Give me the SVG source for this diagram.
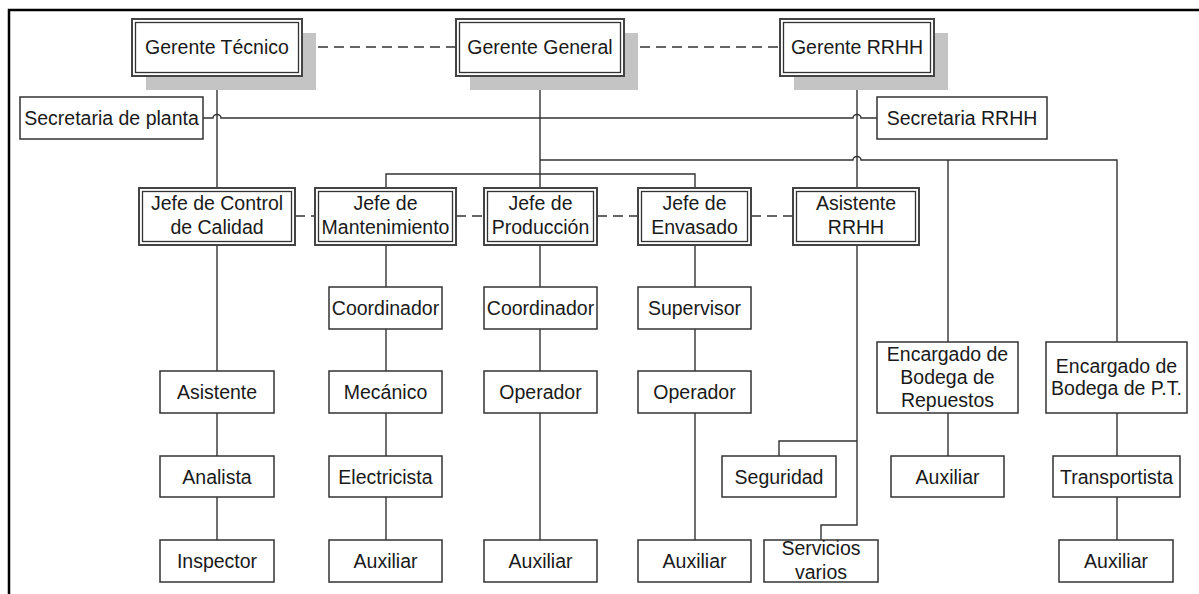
<svg xmlns="http://www.w3.org/2000/svg" width="1199" height="594" viewBox="0 0 1199 594">
<style>
text{font-family:"Liberation Sans",Arial,sans-serif;font-size:19.5px;fill:#1a1a1a;text-anchor:middle}
.box{fill:#fff;stroke:#333;stroke-width:1.5}
.dbo{fill:#fff;stroke:#444;stroke-width:2}
.dbi{fill:none;stroke:#333;stroke-width:1.3}
.sh{fill:#c4c4c4}
.ln{fill:none;stroke:#333;stroke-width:1.4}
.dash{fill:none;stroke:#333;stroke-width:1.4;stroke-dasharray:10 6}
.frame{fill:none;stroke:#000;stroke-width:2.5}
</style>
<rect width="1199" height="594" fill="#fff"/>
<path class="frame" d="M9,594 V10 H1199"/>
<g id="connectors">
<path class="dash" d="M302,47 H456 M624,47 H780"/>
<path class="dash" d="M295,216 H315 M456,216 H484 M597,216 H638 M751,216 H793"/>
<path class="ln" d="M217,76 V188 M217,245 V371 M217,413 V456 M217,497 V540"/>
<path class="ln" d="M540,76 V188 M540,245 V287 M540,329 V371 M540,413 V540"/>
<path class="ln" d="M386,188 V174 H695 V188"/>
<path class="ln" d="M386,245 V287 M386,329 V371 M386,413 V456 M386,497 V540"/>
<path class="ln" d="M695,245 V287 M695,329 V371 M695,413 V540"/>
<path class="ln" d="M857,76 V188 M857,245 V525 H821 V540 M857,441 H779 V456"/>
<path class="ln" d="M203,118 H213 a4,3.5 0 0 1 8,0 H853 a4,3.5 0 0 1 8,0 H877"/>
<path class="ln" d="M540,160 H853 a4,3.5 0 0 1 8,0 H948 V342 M948,160 H1117 V342"/>
<path class="ln" d="M948,413 V456 M1117,413 V456 M1117,497 V540"/>
</g>
<g id="gerente-tecnico"><rect class="sh" x="146" y="33" width="170" height="57"/><rect class="dbo" x="132" y="19" width="170" height="57"/><rect class="dbi" x="135.5" y="22.5" width="163" height="50"/><text x="217" y="54">Gerente Técnico</text></g>
<g id="gerente-general"><rect class="sh" x="470" y="33" width="168" height="57"/><rect class="dbo" x="456" y="19" width="168" height="57"/><rect class="dbi" x="459.5" y="22.5" width="161" height="50"/><text x="540" y="54">Gerente General</text></g>
<g id="gerente-rrhh"><rect class="sh" x="794" y="33" width="154" height="57"/><rect class="dbo" x="780" y="19" width="154" height="57"/><rect class="dbi" x="783.5" y="22.5" width="147" height="50"/><text x="857" y="54">Gerente RRHH</text></g>
<g id="secretaria-planta"><rect class="box" x="20" y="97" width="183" height="42"/><text x="111.5" y="125">Secretaria de planta</text></g>
<g id="secretaria-rrhh"><rect class="box" x="877" y="97" width="170" height="42"/><text x="962" y="125">Secretaria RRHH</text></g>
<g id="jefe-calidad"><rect class="dbo" x="139" y="188" width="156" height="57"/><rect class="dbi" x="142.5" y="191.5" width="149" height="50"/><text x="217" y="210">Jefe de Control</text><text x="217" y="234">de Calidad</text></g>
<g id="jefe-mantenimiento"><rect class="dbo" x="315" y="188" width="141" height="57"/><rect class="dbi" x="318.5" y="191.5" width="134" height="50"/><text x="385.5" y="210">Jefe de</text><text x="385.5" y="234">Mantenimiento</text></g>
<g id="jefe-produccion"><rect class="dbo" x="484" y="188" width="113" height="57"/><rect class="dbi" x="487.5" y="191.5" width="106" height="50"/><text x="540.5" y="210">Jefe de</text><text x="540.5" y="234">Producción</text></g>
<g id="jefe-envasado"><rect class="dbo" x="638" y="188" width="113" height="57"/><rect class="dbi" x="641.5" y="191.5" width="106" height="50"/><text x="694.5" y="210">Jefe de</text><text x="694.5" y="234">Envasado</text></g>
<g id="asistente-rrhh"><rect class="dbo" x="793" y="188" width="126" height="57"/><rect class="dbi" x="796.5" y="191.5" width="119" height="50"/><text x="856" y="210">Asistente</text><text x="856" y="234">RRHH</text></g>
<g id="coordinador-mant"><rect class="box" x="329" y="287" width="113" height="42"/><text x="385.5" y="315">Coordinador</text></g>
<g id="coordinador-prod"><rect class="box" x="484" y="287" width="113" height="42"/><text x="540.5" y="315">Coordinador</text></g>
<g id="supervisor"><rect class="box" x="638" y="287" width="113" height="42"/><text x="694.5" y="315">Supervisor</text></g>
<g id="asistente"><rect class="box" x="160" y="371" width="114" height="42"/><text x="217" y="399">Asistente</text></g>
<g id="mecanico"><rect class="box" x="329" y="371" width="113" height="42"/><text x="385.5" y="399">Mecánico</text></g>
<g id="operador-prod"><rect class="box" x="484" y="371" width="113" height="42"/><text x="540.5" y="399">Operador</text></g>
<g id="operador-env"><rect class="box" x="638" y="371" width="113" height="42"/><text x="694.5" y="399">Operador</text></g>
<g id="bodega-repuestos"><rect class="box" x="877" y="342" width="141" height="71"/><text x="947.5" y="361">Encargado de</text><text x="947.5" y="384">Bodega de</text><text x="947.5" y="407">Repuestos</text></g>
<g id="bodega-pt"><rect class="box" x="1046" y="342" width="141" height="71"/><text x="1116.5" y="373">Encargado de</text><text x="1116.5" y="395">Bodega de P.T.</text></g>
<g id="analista"><rect class="box" x="160" y="456" width="114" height="41"/><text x="217" y="483.5">Analista</text></g>
<g id="electricista"><rect class="box" x="329" y="456" width="113" height="41"/><text x="385.5" y="483.5">Electricista</text></g>
<g id="seguridad"><rect class="box" x="722" y="456" width="114" height="41"/><text x="779" y="483.5">Seguridad</text></g>
<g id="auxiliar-bodega"><rect class="box" x="891" y="456" width="113" height="41"/><text x="947.5" y="483.5">Auxiliar</text></g>
<g id="transportista"><rect class="box" x="1053" y="456" width="127" height="41"/><text x="1116.5" y="483.5">Transportista</text></g>
<g id="inspector"><rect class="box" x="160" y="540" width="114" height="42"/><text x="217" y="568">Inspector</text></g>
<g id="auxiliar-mant"><rect class="box" x="329" y="540" width="113" height="42"/><text x="385.5" y="568">Auxiliar</text></g>
<g id="auxiliar-prod"><rect class="box" x="484" y="540" width="113" height="42"/><text x="540.5" y="568">Auxiliar</text></g>
<g id="auxiliar-env"><rect class="box" x="638" y="540" width="113" height="42"/><text x="694.5" y="568">Auxiliar</text></g>
<g id="servicios-varios"><rect class="box" x="764" y="540" width="114" height="42"/><text x="821" y="555">Servicios</text><text x="821" y="579">varios</text></g>
<g id="auxiliar-pt"><rect class="box" x="1059" y="540" width="114" height="42"/><text x="1116" y="568">Auxiliar</text></g>
</svg>
